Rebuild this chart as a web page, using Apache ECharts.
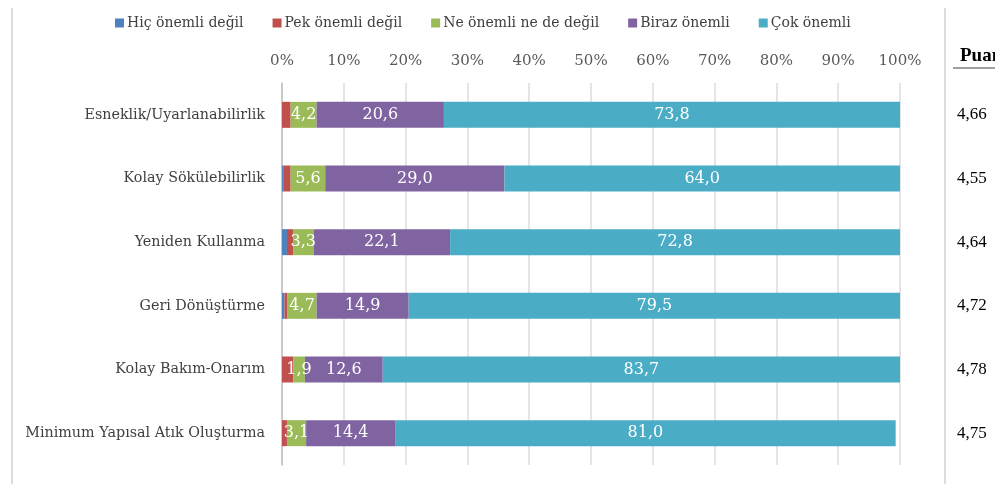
<!DOCTYPE html>
<html>
<head>
<meta charset="utf-8">
<script src="https://cdn.jsdelivr.net/npm/echarts@6/dist/echarts.min.js"></script>
<style>
  html, body { margin: 0; padding: 0; background: #fff; }
  #chart { width: 995px; height: 484px; }
</style>
</head>
<body>
<div id="chart"></div>
<script>
// kategoriler (yukarıdan aşağıya)
const categories = [
  'Esneklik/Uyarlanabilirlik',
  'Kolay Sökülebilirlik',
  'Yeniden Kullanma',
  'Geri Dönüştürme',
  'Kolay Bakım-Onarım',
  'Minimum Yapısal Atık Oluşturma'
]
const seriesNames = ['Hiç önemli değil', 'Pek önemli değil', 'Ne önemli ne de değil', 'Biraz önemli', 'Çok önemli']
const hicOnemliDegil = [0, 0.3, 0.8, 0.4, 0, 0]
const pekOnemliDegil = [1.4, 1.1, 1.0, 0.5, 1.8, 0.8]
const neOnemliNeDegil = [4.2, 5.6, 3.3, 4.7, 1.9, 3.1]
const birazOnemli = [20.6, 29.0, 22.1, 14.9, 12.6, 14.4]
const cokOnemli = [73.8, 64.0, 72.8, 79.5, 83.7, 81.0]
const puan = ['4,66', '4,55', '4,64', '4,72', '4,78', '4,75']
const xTicks = [0, 10, 20, 30, 40, 50, 60, 70, 80, 90, 100]

const colors = ['#4F81BD', '#C0504D', '#9BBB59', '#8064A2', '#4BACC6']
const allValues = [hicOnemliDegil, pekOnemliDegil, neOnemliNeDegil, birazOnemli, cokOnemli]
const serif = '"DejaVu Serif", serif'

const chart = echarts.init(document.getElementById('chart'))

const series = seriesNames.map((name, i) => ({
  name,
  type: 'bar',
  stack: 'total',
  barWidth: 26,
  yAxisIndex: 0,
  data: allValues[i],
  itemStyle: { color: colors[i] },
  label: {
    show: i >= 2,
    position: 'inside',
    color: '#fff',
    fontFamily: serif,
    fontSize: 16,
    formatter: p => p.value.toFixed(1).replace('.', ',')
  }
}))

const option = {
  animation: false,
  backgroundColor: '#fff',
  color: colors,
  legend: {
    left: 110,
    top: 11,
    itemWidth: 9,
    itemHeight: 9,
    itemGap: 29,
    icon: 'rect',
    textStyle: { fontFamily: serif, fontSize: 14, color: '#404040', padding: [0, 0, 0, -2] },
    data: seriesNames
  },
  grid: { left: 282, right: 95, top: 83, height: 382 },
  xAxis: {
    type: 'value',
    position: 'top',
    min: 0,
    max: 100,
    interval: 10,
    axisLine: { show: false },
    axisTick: { show: false },
    splitLine: { lineStyle: { color: '#dcdcdc', width: 1.5 } },
    axisLabel: {
      margin: 14,
      fontFamily: serif,
      fontSize: 15,
      color: '#595959',
      formatter: v => (xTicks.includes(v) ? v + '%' : '')
    }
  },
  yAxis: [
    {
      type: 'category',
      inverse: true,
      data: categories,
      axisLine: { lineStyle: { color: '#bfbfbf', width: 1.5 } },
      axisTick: { show: false },
      axisLabel: { margin: 17, fontFamily: serif, fontSize: 14.3, color: '#404040' }
    },
    {
      type: 'category',
      inverse: true,
      position: 'right',
      data: puan,
      axisLine: { show: false },
      axisTick: { show: false },
      axisLabel: {
        margin: 57,
        fontFamily: '"Liberation Serif", serif',
        fontSize: 17,
        color: '#000'
      }
    }
  ],
  graphic: [
    { type: 'line', shape: { x1: 12, y1: 8, x2: 12, y2: 484 }, style: { stroke: '#d0d0d0', lineWidth: 1.5 } },
    { type: 'line', shape: { x1: 945, y1: 8, x2: 945, y2: 484 }, style: { stroke: '#d0d0d0', lineWidth: 1.5 } },
    {
      type: 'text', left: 960, top: 47,
      style: { text: 'Puan', font: 'bold 19px "Liberation Serif", serif', fill: '#000' }
    },
    { type: 'line', shape: { x1: 953, y1: 68, x2: 995, y2: 68 }, style: { stroke: '#7f7f7f', lineWidth: 1.5 } }
  ],
  series
}

chart.setOption(option)
</script>
</body>
</html>
